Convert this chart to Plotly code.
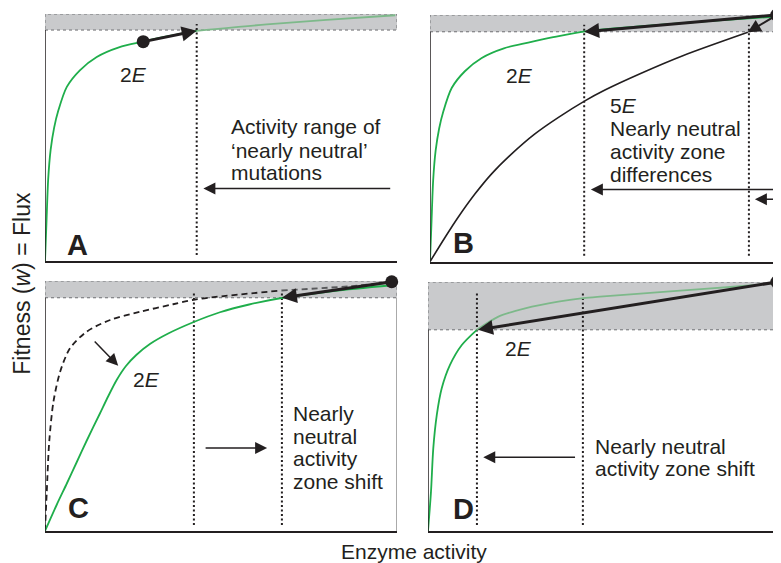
import plotly.graph_objects as go

# ---------------- data (panel units 0-100) ----------------
# Panel A / B : 2E flux curve (green)
green_2E_x = [0, 0.4, 0.9, 1.6, 2.6, 3.8, 6.2, 9.9, 14.7, 21.0, 27.9, 35.0, 43.1, 63.0, 80.0, 99.5]
green_2E_y = [0, 15.0, 33.0, 45.0, 54.0, 61.0, 70.5, 77.2, 82.6, 86.5, 88.8, 91.0, 93.2, 95.8, 97.6, 99.5]
# Panel B : 5E flux curve (black)
black_5E_x = [0, 4.3, 8.0, 12.8, 17.5, 23.2, 29.8, 36.5, 44.0, 49.7, 60.0, 72.0, 90.3]
black_5E_y = [0, 9.9, 18.0, 27.5, 35.6, 43.7, 51.8, 58.5, 65.2, 69.6, 76.4, 83.6, 93.0]
# Panel C : shifted 2E curve (green) and original curve (dashed)
green_C_x = [0, 3.3, 6.2, 9.0, 11.8, 15.6, 18.0, 20.4, 23.0, 26.0, 29.8, 35.0, 42.1, 49.7, 58.0, 67.2, 81.9, 98.5]
green_C_y = [0, 10.4, 19.0, 27.5, 36.0, 47.0, 54.0, 60.5, 66.0, 70.5, 74.8, 79.0, 83.5, 87.5, 90.6, 93.2, 96.0, 98.3]
dashed_C_x = [0, 0.5, 1.2, 2.4, 4.3, 7.1, 11.8, 18.5, 27.0, 36.4, 42.6, 67.2, 86.6, 98.5]
dashed_C_y = [0, 15.7, 35.7, 51.7, 63.7, 73.1, 79.7, 84.4, 87.7, 90.7, 92.6, 96.2, 97.9, 99.5]
# Panel D : 2E curve (green)
green_D_x = [0, 0.85, 1.5, 2.5, 3.9, 6.25, 9.6, 13.8, 20.0, 27.6, 37.0, 44.1, 48.9, 67.8, 90.5, 99.1]
green_D_y = [0, 15.8, 33.2, 46.6, 57.3, 66.7, 74.7, 80.7, 86.1, 89.4, 92.1, 93.5, 94.1, 96.1, 98.5, 99.6]

# nearly-neutral band lower limit per panel (fitness)
band_low = {"A": 93.5, "B": 93.2, "C": 93.3, "D": 80.8}
# dotted zone boundaries (activity)
zone_A = [43.1]
zone_B = [43.8, 90.6]
zone_C = [42.3, 67.3]
zone_D = [13.9, 44.0]
# genotype points (activity, fitness)
dot_A = (27.9, 88.8)
dot_B = (98.5, 100.0)
dot_C = (98.5, 99.7)
dot_D = (99.1, 100.0)

# ---------------- layout helpers ----------------
OFF = 8                      # page body margin offset
W, H = 781 - OFF, 563 - OFF  # figure size
GREEN = "#1fae4b"
GREEN_MUTED = "#7db98a"
GRAY_DASH = "#58595b"
INK = "#231f20"
FONT = "Liberation Sans, Arial, sans-serif"

def xdom(a, b):
    return [(a - OFF) / W, min(1.0, (b - OFF) / W)]

def ydom(bottom, top):
    return [1 - (bottom - OFF) / H, 1 - (top - OFF) / H]

panels = {
    "A": dict(ax="", xd=xdom(45, 397), yd=ydom(261, 14), xr=[0, 100]),
    "B": dict(ax="2", xd=xdom(430, 781), yd=ydom(261.7, 15), xr=[0, (781 - 430) / 3.52]),
    "C": dict(ax="3", xd=xdom(45, 397), yd=ydom(531, 281), xr=[0, 100]),
    "D": dict(ax="4", xd=xdom(428, 781), yd=ydom(531, 282), xr=[0, (781 - 428) / 3.52]),
}

fig = go.Figure()
layout = dict(width=W, height=H, margin=dict(l=0, r=0, t=0, b=0),
              paper_bgcolor="white", plot_bgcolor="white", showlegend=False)

for name, p in panels.items():
    a = p["ax"]
    layout["xaxis" + a] = dict(domain=p["xd"], range=p["xr"], showgrid=False, zeroline=False,
                               showticklabels=False, ticks="", showline=True, linecolor=INK,
                               linewidth=1.5, anchor="y" + a, fixedrange=True)
    layout["yaxis" + a] = dict(domain=p["yd"], range=[0, 100], showgrid=False, zeroline=False,
                               showticklabels=False, ticks="", showline=False,
                               anchor="x" + a, fixedrange=True)

shapes = []
annotations = []

def xy(name):
    a = panels[name]["ax"]
    return "x" + a, "y" + a

# bands + left axis lines
for name in panels:
    xr, yr = xy(name)
    shapes.append(dict(type="rect", xref=xr, yref=yr, x0=0, x1=100, y0=band_low[name], y1=100,
                       fillcolor="#c9cacc", line=dict(color="#6d6e71", width=1, dash="dot"),
                       layer="below"))
    shapes.append(dict(type="line", xref=xr, yref=yr, x0=0, x1=0, y0=0, y1=band_low[name],
                       line=dict(color=INK, width=1.5)))
# right border of panel C
shapes.append(dict(type="line", xref="x3", yref="y3", x0=100, x1=100, y0=0, y1=band_low["C"],
                   line=dict(color="#555555", width=1)))

def add_curve(name, xs, ys, color, width=1.8, dash=None, muted=None):
    xr, yr = xy(name)
    if muted:
        k = next(i for i, v in enumerate(ys) if v >= band_low[name] - 0.5)
        fig.add_trace(go.Scatter(x=xs[k:], y=ys[k:], mode="lines", xaxis=xr, yaxis=yr,
                                 line=dict(color=muted, width=width, dash=dash, shape="spline",
                                           smoothing=0.8),
                                 hoverinfo="skip"))
        xs, ys = xs[:k + 1], ys[:k + 1]
    fig.add_trace(go.Scatter(x=xs, y=ys, mode="lines", xaxis=xr, yaxis=yr,
                             line=dict(color=color, width=width, dash=dash, shape="spline", smoothing=0.8),
                             hoverinfo="skip"))

def add_zones(name, zones):
    xr, yr = xy(name)
    for z in zones:
        fig.add_trace(go.Scatter(x=[z, z], y=[2.4, 96.0], mode="lines", xaxis=xr, yaxis=yr,
                                 line=dict(color=INK, width=2, dash="2px,2.5px"), hoverinfo="skip"))

def add_dot(name, pt):
    xr, yr = xy(name)
    fig.add_trace(go.Scatter(x=[pt[0]], y=[pt[1]], mode="markers", xaxis=xr, yaxis=yr,
                             marker=dict(color=INK, size=13), cliponaxis=False, hoverinfo="skip"))

def arrow(name, tail, head, width=1.5, size=1.6):
    xr, yr = xy(name)
    annotations.append(dict(xref=xr, yref=yr, axref=xr, ayref=yr, x=head[0], y=head[1],
                            ax=tail[0], ay=tail[1], text="", showarrow=True, arrowhead=2,
                            arrowsize=size, arrowwidth=width, arrowcolor=INK, standoff=0,
                            startstandoff=0))

def text(name, x, y, s, size=21, anchor="left", bold=False):
    xr, yr = xy(name)
    if bold:
        s = "<b>" + s + "</b>"
    annotations.append(dict(xref=xr, yref=yr, x=x, y=y, text=s, showarrow=False,
                            xanchor=anchor, yanchor="middle",
                            font=dict(family=FONT, size=size, color=INK)))

# ---- Panel A ----
add_zones("A", zone_A)
add_curve("A", green_2E_x, green_2E_y, GREEN, muted=GREEN_MUTED)
arrow("A", dot_A, (zone_A[0], green_2E_y[12]), width=3, size=1.0)
add_dot("A", dot_A)
text("A", 25.0, 75.7, "2<i>E</i>", anchor="center")
text("A", 52.3, 54.3, "Activity range of")
text("A", 52.3, 44.9, "\u2018nearly neutral\u2019")
text("A", 52.3, 36.0, "mutations")
arrow("A", (98.5, 29.4), (45.0, 29.4))
text("A", 9.2, 6.5, "A", size=29, anchor="center", bold=True)

# ---- Panel B ----
add_zones("B", zone_B)
add_curve("B", green_2E_x, green_2E_y, GREEN)
add_curve("B", black_5E_x, black_5E_y, INK, width=1.6)
arrow("B", dot_B, (zone_B[0], band_low["B"]), width=3, size=1.0)
arrow("B", dot_B, (black_5E_x[-1], black_5E_y[-1]), width=2, size=1.3)
add_dot("B", dot_B)
text("B", 25.4, 75.5, "2<i>E</i>", anchor="center")
text("B", 50.7, 63.2, "5<i>E</i>")
text("B", 50.7, 54.1, "Nearly neutral")
text("B", 50.7, 44.6, "activity zone")
text("B", 50.7, 35.5, "differences")
arrow("B", (99.7, 29.3), (45.7, 29.3))
arrow("B", (99.7, 25.3), (92.3, 25.3))
text("B", 9.5, 7.5, "B", size=29, anchor="center", bold=True)

# ---- Panel C ----
add_zones("C", zone_C)
add_curve("C", dashed_C_x, dashed_C_y, INK, width=1.8, dash="6px,4px", muted=GRAY_DASH)
add_curve("C", green_C_x, green_C_y, GREEN)
arrow("C", dot_C, (zone_C[1], band_low["C"]), width=3, size=1.0)
add_dot("C", dot_C)
arrow("C", (13.7, 76.4), (20.8, 66.1))
text("C", 28.8, 60.5, "2<i>E</i>", anchor="center")
text("C", 69.9, 47.0, "Nearly")
text("C", 69.9, 38.0, "neutral")
text("C", 69.9, 29.0, "activity")
text("C", 69.9, 20.0, "zone shift")
arrow("C", (45.2, 33.2), (63.1, 33.2))
text("C", 9.5, 9.1, "C", size=29, anchor="center", bold=True)

# ---- Panel D ----
add_zones("D", zone_D)
add_curve("D", green_D_x, green_D_y, GREEN, muted=GREEN_MUTED)
arrow("D", dot_D, (zone_D[0] + 0.3, band_low["D"]), width=3, size=1.0)
add_dot("D", dot_D)
text("D", 25.7, 73.2, "2<i>E</i>", anchor="center")
text("D", 47.0, 33.9, "Nearly neutral")
text("D", 47.0, 25.2, "activity zone shift")
arrow("D", (42.2, 29.6), (15.7, 29.6))
text("D", 10.0, 8.8, "D", size=29, anchor="center", bold=True)

# ---- shared axis titles ----
annotations.append(dict(xref="paper", yref="paper", x=(21.7 - OFF) / W, y=1 - (283 - OFF) / H,
                        text="Fitness (<i>w</i>) = Flux", textangle=-90, showarrow=False,
                        xanchor="center", yanchor="middle",
                        font=dict(family=FONT, size=23, color=INK)))
annotations.append(dict(xref="paper", yref="paper", x=(414 - OFF) / W, y=1 - (551 - OFF) / H,
                        text="Enzyme activity", showarrow=False, xanchor="center", yanchor="middle",
                        font=dict(family=FONT, size=21, color=INK)))

layout["shapes"] = shapes
layout["annotations"] = annotations
fig.update_layout(**layout)
fig.write_html("out.html")
